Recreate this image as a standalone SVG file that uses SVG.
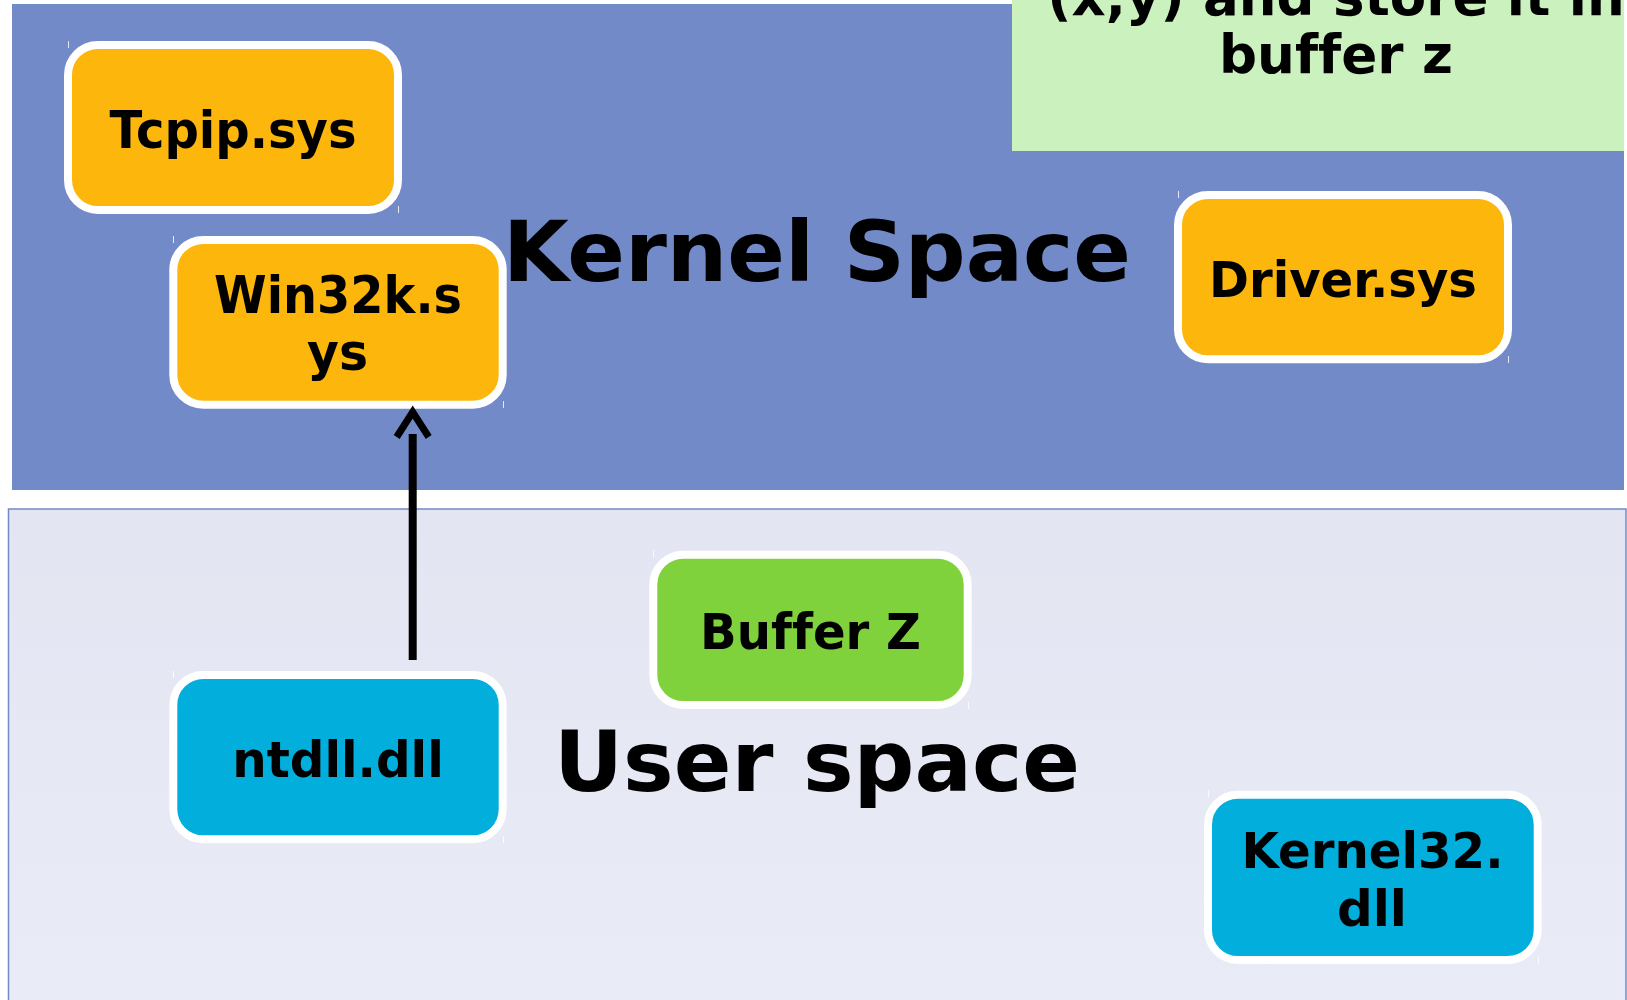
<svg xmlns="http://www.w3.org/2000/svg" width="1627" height="1000" viewBox="0 0 1627 1000">
  <style>
    .lbl { font-family: "DejaVu Sans", "Liberation Sans", sans-serif; font-weight: bold; fill: #000; text-anchor: middle; font-variant-ligatures: none; font-feature-settings: "liga" 0, "clig" 0; }
    .big { font-family: "DejaVu Sans", "Liberation Sans", sans-serif; font-weight: bold; fill: #000; font-size: 84px; font-variant-ligatures: none; }
    .box { stroke: #fff; stroke-width: 8; }
    .sys { fill: #FDB70C; }
    .dll { fill: #02AEDC; }
    .buf { fill: #7FD23C; }
    .tick { stroke: #fff; stroke-width: 1; opacity: 0.8; fill: none; }
  </style>
  <defs>
    <linearGradient id="userFill" x1="0" y1="0" x2="0" y2="1">
      <stop offset="0" stop-color="#E3E6F2"/>
      <stop offset="1" stop-color="#E9ECF6"/>
    </linearGradient>
    <marker id="openArrow" markerUnits="userSpaceOnUse" viewBox="-10 -25 45 50" markerWidth="45" markerHeight="50" refX="0" refY="0" orient="auto" overflow="visible">
      <path d="M-3,-16 L22,0 L-3,16" fill="none" stroke="#000" stroke-width="7"/>
    </marker>
  </defs>

  <rect width="1627" height="1000" fill="#fff"/>

  <!-- regions -->
  <g id="kernel-space">
    <rect x="12" y="4" width="1612" height="486" fill="#728AC7"/>
    <text class="big" x="503" y="280.7" textLength="628" lengthAdjust="spacingAndGlyphs">Kernel Space</text>
  </g>
  <g id="user-space">
    <rect x="8.5" y="509" width="1617.5" height="495" fill="url(#userFill)" stroke="#728AC7" stroke-width="1.5"/>
    <text class="big" x="554" y="790.7" textLength="526" lengthAdjust="spacingAndGlyphs">User space</text>
  </g>

  <!-- note, its first line runs past the top edge -->
  <g id="note">
    <rect x="1012" y="-10" width="612" height="161" fill="#CBF2BE"/>
    <text class="lbl" font-size="53" x="1336" y="15">(x,y) and store it in</text>
    <text class="lbl" font-size="53" x="1336" y="72.7" textLength="234" lengthAdjust="spacingAndGlyphs">buffer z</text>
  </g>

  <!-- nodes -->
  <g id="tcpip">
    <rect class="box sys" x="68" y="45" width="330" height="165" rx="30"/>
    <path class="tick" d="M68.5,41v7M398.5,206v7"/>
    <text class="lbl" font-size="52" x="233" y="148.3" textLength="247" lengthAdjust="spacingAndGlyphs">Tcpip.sys</text>
  </g>
  <g id="win32k">
    <rect class="box sys" x="173.3" y="240" width="329.4" height="164.7" rx="30"/>
    <path class="tick" d="M173.5,236v7M503.5,401v7"/>
    <text class="lbl" font-size="51" x="338" y="313.3" textLength="248" lengthAdjust="spacingAndGlyphs">Win32k.s</text>
    <text class="lbl" font-size="51" x="337.5" y="370" textLength="61" lengthAdjust="spacingAndGlyphs">ys</text>
  </g>
  <g id="driver">
    <rect class="box sys" x="1178" y="195" width="330" height="164.3" rx="30"/>
    <path class="tick" d="M1178.5,191v7M1508.5,356v7"/>
    <text class="lbl" font-size="49" x="1343" y="297.3" textLength="268" lengthAdjust="spacingAndGlyphs">Driver.sys</text>
  </g>
  <g id="buffer-z">
    <rect class="box buf" x="653.3" y="554.7" width="314.4" height="150.3" rx="30"/>
    <path class="tick" d="M653.5,550.5v7M968.5,702v7"/>
    <text class="lbl" font-size="49" x="810.5" y="649" textLength="221" lengthAdjust="spacingAndGlyphs">Buffer Z</text>
  </g>
  <g id="ntdll">
    <rect class="box dll" x="173.3" y="675" width="329.4" height="164.3" rx="30"/>
    <path class="tick" d="M173.5,671v7M503.5,836v7"/>
    <text class="lbl" font-size="50" x="338" y="777.3" textLength="211.6" lengthAdjust="spacingAndGlyphs">ntdll.dll</text>
  </g>
  <g id="kernel32">
    <rect class="box dll" x="1208" y="794.7" width="329.7" height="165.3" rx="30"/>
    <path class="tick" d="M1208.5,790.5v7M1538.5,957v7"/>
    <text class="lbl" font-size="49" x="1372.5" y="868.3" textLength="262" lengthAdjust="spacingAndGlyphs">Kernel32.</text>
    <text class="lbl" font-size="49" x="1372" y="926" textLength="70" lengthAdjust="spacingAndGlyphs">dll</text>
  </g>

  <!-- connectors -->
  <g id="connectors">
    <path d="M412.7,660 L412.7,434" fill="none" stroke="#000" stroke-width="8" marker-end="url(#openArrow)"/>
  </g>
</svg>
